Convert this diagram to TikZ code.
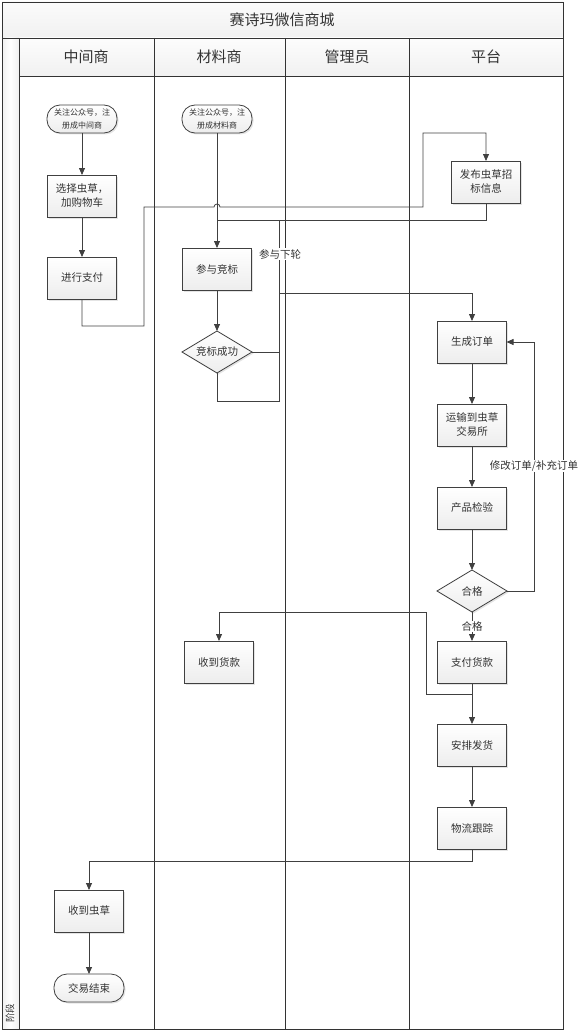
\documentclass[tikz,border=0pt]{standalone}
\usepackage{fontspec}
\setmainfont{Noto Sans CJK SC}
\usepackage{xcolor}
\usepackage{tikz}
\usetikzlibrary{bayesnet}
\usetikzlibrary{positioning}
\usetikzlibrary{shapes.geometric}
\usetikzlibrary{arrows.meta}
\usetikzlibrary{shadows}
\definecolor{linec}{HTML}{404040}
\definecolor{lanec}{HTML}{333333}
\definecolor{txt}{HTML}{333333}

\begin{document}
\begin{tikzpicture}[x=1pt,y=-1pt,node distance=41pt,
        shade/.style={top color=white,bottom color=gray!14,outer sep=0pt,
            drop shadow={shadow xshift=1.5pt,shadow yshift=-1.5pt,fill=gray!60,opacity=0.35}},
        proc/.style={rectangle,draw=linec,line width=0.8pt,shade,minimum width=69pt,minimum height=42pt,
            inner sep=1pt,align=center,text=txt,font=\fontsize{10.5}{14}\selectfont},
        term/.style={rectangle,rounded corners=13pt,draw=linec,line width=0.8pt,shade,minimum width=70pt,
            minimum height=28pt,inner sep=1pt,align=center,text=txt,font=\fontsize{8}{13}\selectfont},
        dec/.style={diamond,shape aspect=1.67,draw=linec,line width=0.8pt,shade,minimum width=70pt,
            minimum height=42pt,inner sep=0pt,text=txt,font=\fontsize{10.5}{14}\selectfont},
        flow/.style={draw=linec,line width=0.8pt,>={Triangle[length=7pt,width=6pt]}},
        lane/.style={draw=lanec,line width=0.9pt},
        head/.style={text=txt,font=\fontsize{15}{15}\selectfont},
        lbl/.style={fill=white,inner sep=1pt,text=txt,font=\fontsize{10.5}{12}\selectfont}]
        \useasboundingbox (0,0) rectangle (580,1030);

        \fill[top color=gray!3,bottom color=gray!11] (2,2) rectangle (563,38);
        \fill[top color=gray!2,bottom color=gray!11] (19,38) rectangle (563,76);
        \fill[left color=gray!12,right color=gray!12,middle color=white] (2,38) rectangle (19,1029);
        \draw[lane] (2,2) rectangle (563,1029);
        \draw[lane] (2,38) -- (563,38);
        \draw[lane] (19,76) -- (563,76);
        \foreach \x in {19,154,285,409} \draw[lane] (\x,38) -- (\x,1029);

        \node[head] (T0) at (282,20) {赛诗玛微信商城};
        \node[head] (T1) at (86,57) {中间商};
        \node[head] (T2) at (219,57) {材料商};
        \node[head] (T3) at (347,57) {管理员};
        \node[head] (T4) at (486,57) {平台};
        \node[rotate=90,text=txt,font=\fontsize{9.5}{9.5}\selectfont] (T5) at (10,1013) {阶段};

        \node[term] (M1) at (82,119) {关注公众号，注\\册成中间商};
        \node[proc,below=42pt of M1] (M2) {选择虫草，\\加购物车};
        \node[proc,below=40pt of M2] (M3) {进行支付};
        \node[proc] (M4) at (89,911) {收到虫草};
        \node[term,below=42pt of M4,font=\fontsize{10.5}{14}\selectfont] (M5) {交易结束};

        \node[term] (C1) at (217,119) {关注公众号，注\\册成材料商};
        \node[proc] (C2) at (217,269) {参与竞标};
        \node[dec,below=of C2] (C3) {竞标成功};
        \node[proc] (C4) at (219,662) {收到货款};

        \node[proc] (P1) at (486,182) {发布虫草招\\标信息};
        \node[proc] (P2) at (472,342) {生成订单};
        \node[proc,below=of P2] (P3) {运输到虫草\\交易所};
        \node[proc,below=of P3] (P4) {产品检验};
        \node[dec,below=of P4] (P5) {合格};
        \node[proc,below=29pt of P5] (P6) {支付货款};
        \node[proc,below=of P6] (P7) {安排发货};
        \node[proc,below=of P7] (P8) {物流跟踪};

        \path (C2.north) ++(0,-28) coordinate (J);

        \edge[flow] {M1} {M2};
        \edge[flow] {M2} {M3};
        \edge[flow] {C1} {C2};
        \edge[flow] {C2} {C3};
        \edge[flow] {P2} {P3};
        \edge[flow] {P3} {P4};
        \edge[flow] {P4} {P5};
        \edge[flow] {P6} {P7};
        \edge[flow] {P7} {P8};
        \edge[flow] {M4} {M5};

        \draw[flow,->] (M3.south) |- (144,326) |- (214,207)
            arc[start angle=180,end angle=0,radius=3pt] -| (423,133) -| (P1.north);
        \draw[flow] (P1.south) |- (J);
        \draw[flow] (C3.south) |- (279,401) |- (J);
        \draw[flow,->] (C3.east) -| (279,293) -| (P2.north);
        \draw[flow,->] (P5.east) -| ([xshift=28pt]P2.east) -- (P2.east);
        \draw[flow,->] (P5.south) -- node[lbl] (L3) {合格} (P6.north);
        \draw[flow,->] (P6.south) ++(0,11) -| (426,612) -| (C4.north);
        \draw[flow,->] (P8.south) -- ++(0,12) -| (M4.north);

        \node[lbl] (L1) at (280,254) {参与下轮};
        \node[lbl] (L2) at (534,466) {修改订单/补充订单};
    \end{tikzpicture}
\end{document}
